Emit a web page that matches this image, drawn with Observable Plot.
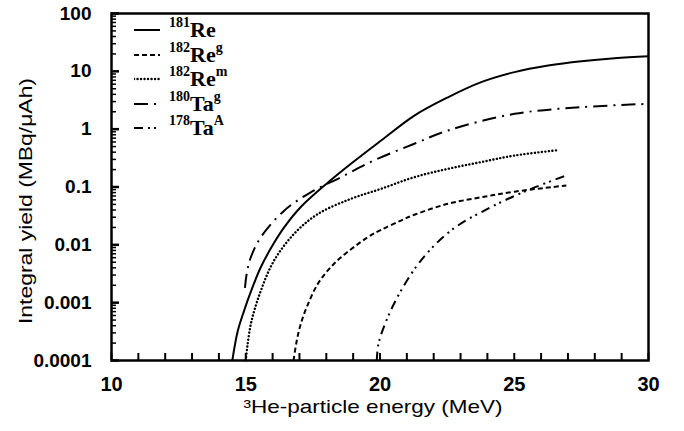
<!DOCTYPE html>
<html>
<head>
<meta charset="utf-8">
<script src="https://cdn.jsdelivr.net/npm/d3@7"></script>
<script src="https://cdn.jsdelivr.net/npm/@observablehq/plot@0.6"></script>
<style>
  html, body { margin: 0; padding: 0; background: #fff; }
  #wrap { position: relative; width: 684px; height: 431px; }
  #legend { position: absolute; left: 134px; top: 18px; font-family: "Liberation Serif", "Times New Roman", serif; font-weight: bold; color: #000; }
  .row { display: flex; align-items: center; height: 24.5px; }
  .row svg { width: 26px; height: 10px; margin-right: 9px; }
  .lab { font-size: 22px; line-height: 22px; }
  .lab sup { font-size: 14px; line-height: 14px; vertical-align: top; position: relative; top: -3px; }
</style>
</head>
<body>
<div id="wrap"><div id="legend"></div></div>
<script>
// ---- data ----
const seriesNames = ["181Re", "182Reg", "182Rem", "180Tag", "178TaA"];

const re181E = [14.5, 14.7, 14.94, 15.2, 15.56, 16.0, 16.43, 17.05, 18.0, 19.0, 20.04, 21.28, 22.53, 23.77, 25.01, 26.26, 27.5, 28.74, 30];
const re181Y = [1e-4, 3.2e-4, 7.3e-4, 0.0016, 0.0041, 0.0098, 0.020, 0.045, 0.113, 0.27, 0.635, 1.72, 3.56, 6.5, 9.7, 12.6, 15.0, 16.9, 18.2];

const re182gE = [16.78, 16.9, 17.05, 17.3, 17.68, 18.1, 18.55, 19.54, 20.04, 20.78, 21.28, 22.53, 23.77, 25.01, 26.94];
const re182gY = [1e-4, 2.2e-4, 4.3e-4, 9e-4, 0.0021, 0.0038, 0.0061, 0.0135, 0.0182, 0.0263, 0.0331, 0.0513, 0.0664, 0.083, 0.106];

const re182mE = [15.0, 15.19, 15.56, 16.06, 16.8, 17.68, 18.9, 20.04, 21.28, 22.53, 23.77, 25.01, 26.57];
const re182mY = [1e-4, 4.3e-4, 0.0016, 0.0054, 0.0155, 0.034, 0.062, 0.093, 0.148, 0.206, 0.27, 0.35, 0.43];

const ta180gE = [14.97, 15.05, 15.19, 15.56, 16.43, 17.42, 18.55, 19.79, 21.28, 22.53, 25.01, 27.5, 30];
const ta180gY = [0.0018, 0.0035, 0.0061, 0.0135, 0.039, 0.081, 0.148, 0.29, 0.56, 0.95, 1.84, 2.4, 2.74];

const ta178E = [19.88, 19.95, 20.29, 20.78, 21.53, 22.65, 24.14, 25.63, 26.94];
const ta178Y = [1e-4, 2e-4, 5.6e-4, 0.0016, 0.0054, 0.0178, 0.045, 0.093, 0.158];

const xMajorTicks = [10, 15, 20, 25, 30];
const yMajorTicks = [1e-4, 1e-3, 1e-2, 0.1, 1, 10, 100];
const yTickLabels = ["0.0001", "0.001", "0.01", "0.1", "1", "10", "100"];
const xTitle = "³He-particle energy (MeV)";
const yTitle = "Integral yield (MBq/μAh)";

// ---- build ----
const dashes = {
  "181Re": null,
  "182Reg": "5,3",
  "182Rem": "0.1,3.4",
  "180Tag": "14,6,2,6",
  "178TaA": "9,5,2,4,2,5"
};
const caps = {"181Re": "butt", "182Reg": "butt", "182Rem": "round", "180Tag": "butt", "178TaA": "butt"};
const lists = [[re181E, re181Y], [re182gE, re182gY], [re182mE, re182mY], [ta180gE, ta180gY], [ta178E, ta178Y]];
const data = [];
lists.forEach(([E, Y], i) => E.forEach((e, j) => data.push({s: seriesNames[i], e, v: Y[j]})));

const xMinor = d3.range(10, 31, 1);
const yMinor = [];
for (let k = -4; k < 2; k++) for (let m = 2; m <= 9; m++) yMinor.push(m * Math.pow(10, k));

const W = 684, H = 431, ML = 111, MR = 36, MT = 13, MB = 71;
const FW = W - ML - MR, FH = H - MT - MB;

const marks = [];
seriesNames.forEach(s => {
  marks.push(Plot.line(data.filter(d => d.s === s), {
    x: "e", y: "v", curve: "catmull-rom", stroke: "#000",
    strokeWidth: s === "182Rem" ? 2.4 : 2,
    strokeDasharray: dashes[s], strokeLinecap: caps[s]
  }));
});

const plot = Plot.plot({
  width: W, height: H,
  marginLeft: ML, marginRight: MR, marginTop: MT, marginBottom: MB,
  style: {fontFamily: "Liberation Sans, Arial, sans-serif", color: "#000", background: "#fff"},
  x: {domain: [10, 30]},
  y: {type: "log", domain: [1e-4, 100]},
  marks: [
    ...marks,
    // inward ticks
    Plot.tickX(xMinor, {x: d => d, insetTop: FH - 7, stroke: "#000", strokeWidth: 2}),
    Plot.tickY(yMinor, {y: d => d, insetRight: FW - 5, stroke: "#000", strokeWidth: 1.5}),
    Plot.tickY(yMajorTicks, {y: d => d, insetRight: FW - 8, stroke: "#000", strokeWidth: 2.5}),
    Plot.axisX({ticks: xMajorTicks, tickSize: 0, tickPadding: 16, tickFormat: d => String(d), fontSize: 20, fontWeight: "bold", label: null}),
    Plot.axisY({ticks: yMajorTicks, tickSize: 0, tickPadding: 20, tickFormat: d => yTickLabels[yMajorTicks.indexOf(d)], fontSize: 19, fontWeight: "bold", label: null}),
    Plot.frame({stroke: "#000", strokeWidth: 2.5}),
    Plot.text([yTitle], {frameAnchor: "left", textAnchor: "middle", dx: -86, dy: 14, rotate: -90, fontSize: 19, text: d => d, className: "ytitle"}),
    Plot.text([xTitle], {frameAnchor: "bottom", textAnchor: "middle", dx: -7, dy: 52, fontSize: 19, text: d => d, className: "xtitle"})
  ]
});
document.getElementById("wrap").prepend(plot);
// stretch axis titles to the reference's length
d3.select(plot).selectAll(".ytitle text").attr("textLength", 246).attr("lengthAdjust", "spacingAndGlyphs");
d3.select(plot).selectAll(".xtitle text").attr("textLength", 259).attr("lengthAdjust", "spacingAndGlyphs");

// legend
const legend = d3.select("#legend");
const supText = {"181Re": ["181", "Re", ""], "182Reg": ["182", "Re", "g"], "182Rem": ["182", "Re", "m"], "180Tag": ["180", "Ta", "g"], "178TaA": ["178", "Ta", "A"]};
seriesNames.forEach(s => {
  const row = legend.append("div").attr("class", "row");
  const svg = row.append("svg").attr("viewBox", "0 0 26 10");
  svg.append("line").attr("x1", 0).attr("x2", 26).attr("y1", 5).attr("y2", 5)
    .attr("stroke", "#000").attr("stroke-width", s === "182Rem" ? 2.4 : 2)
    .attr("stroke-dasharray", dashes[s] || null)
    .attr("stroke-linecap", caps[s]);
  const [a, b, c] = supText[s];
  row.append("span").attr("class", "lab").html(`<sup>${a}</sup>${b}${c ? `<sup>${c}</sup>` : ""}`);
});
</script>
</body>
</html>
